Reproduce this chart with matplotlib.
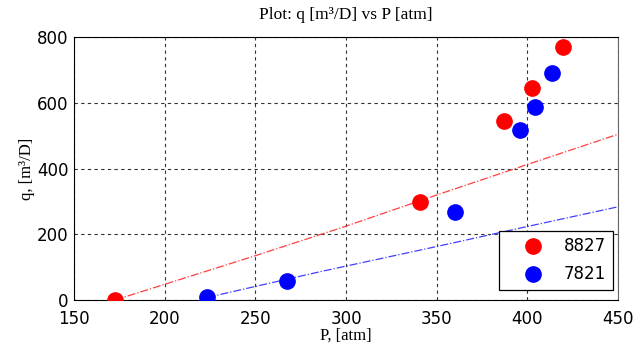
import matplotlib
matplotlib.use('Agg')
import matplotlib.pyplot as plt

# measured points
p_8827 = [172.6, 340.6, 386.9, 402.3, 419.4]
q_8827 = [0, 299, 546, 646, 771]
p_7821 = [223.6, 267.2, 359.9, 395.7, 404.0, 413.4]
q_7821 = [10, 58, 269, 518, 588, 693]

# trend lines (dash-dot)
fit_p_8827 = [172.6, 250, 300, 350, 400, 450]
fit_q_8827 = [0, 135, 225, 320, 413, 505]
fit_p_7821 = [223.6, 285.5, 350, 400, 450]
fit_q_7821 = [8, 86, 163, 224, 284]

xticks = [150, 200, 250, 300, 350, 400, 450]
yticks = [0, 200, 400, 600, 800]

serif = ['Liberation Serif', 'DejaVu Serif']

fig = plt.figure(figsize=(6.36, 3.51), dpi=100)
ax = fig.add_axes([0.1164, 0.1453, 0.8553, 0.7479])

ax.plot(fit_p_8827, fit_q_8827, '-.', color='#ff4040', lw=0.9, zorder=2)
ax.plot(fit_p_7821, fit_q_7821, '-.', color='#4040ff', lw=0.9, zorder=2)
ax.plot(p_8827, q_8827, 'o', color='#ff0000', ms=11, label='8827', zorder=3)
ax.plot(p_7821, q_7821, 'o', color='#0000ff', ms=11, label='7821', zorder=3)

ax.set_xlim(150, 450)
ax.set_ylim(0, 800)
ax.set_xticks(xticks)
ax.set_yticks(yticks)
ax.tick_params(length=0, labelsize=12)
ax.tick_params(axis='x', pad=7)
ax.tick_params(axis='y', pad=4)
ax.grid(True, color='#333333', ls=(0, (3, 3)), lw=0.8)
for s in ['left', 'bottom', 'top']:
    ax.spines[s].set_color('black')
ax.spines['right'].set_color('#666666')

ax.set_title('Plot: q [m³/D] vs P [atm]', family=serif, fontsize=12.5, pad=13)
ax.set_xlabel('P, [atm]', family=serif, fontsize=12, labelpad=0)
ax.set_ylabel('q, [m³/D]', family=serif, fontsize=12, labelpad=1)

leg = ax.legend(loc='lower right', bbox_to_anchor=(0.9908, 0.038), fontsize=12,
                frameon=True, fancybox=False, edgecolor='black', framealpha=1,
                borderaxespad=0, handlelength=3.3, handletextpad=0.2,
                borderpad=0.4, labelspacing=0.6)
leg.get_frame().set_linewidth(0.9)

fig.savefig('out.png', dpi=100)
